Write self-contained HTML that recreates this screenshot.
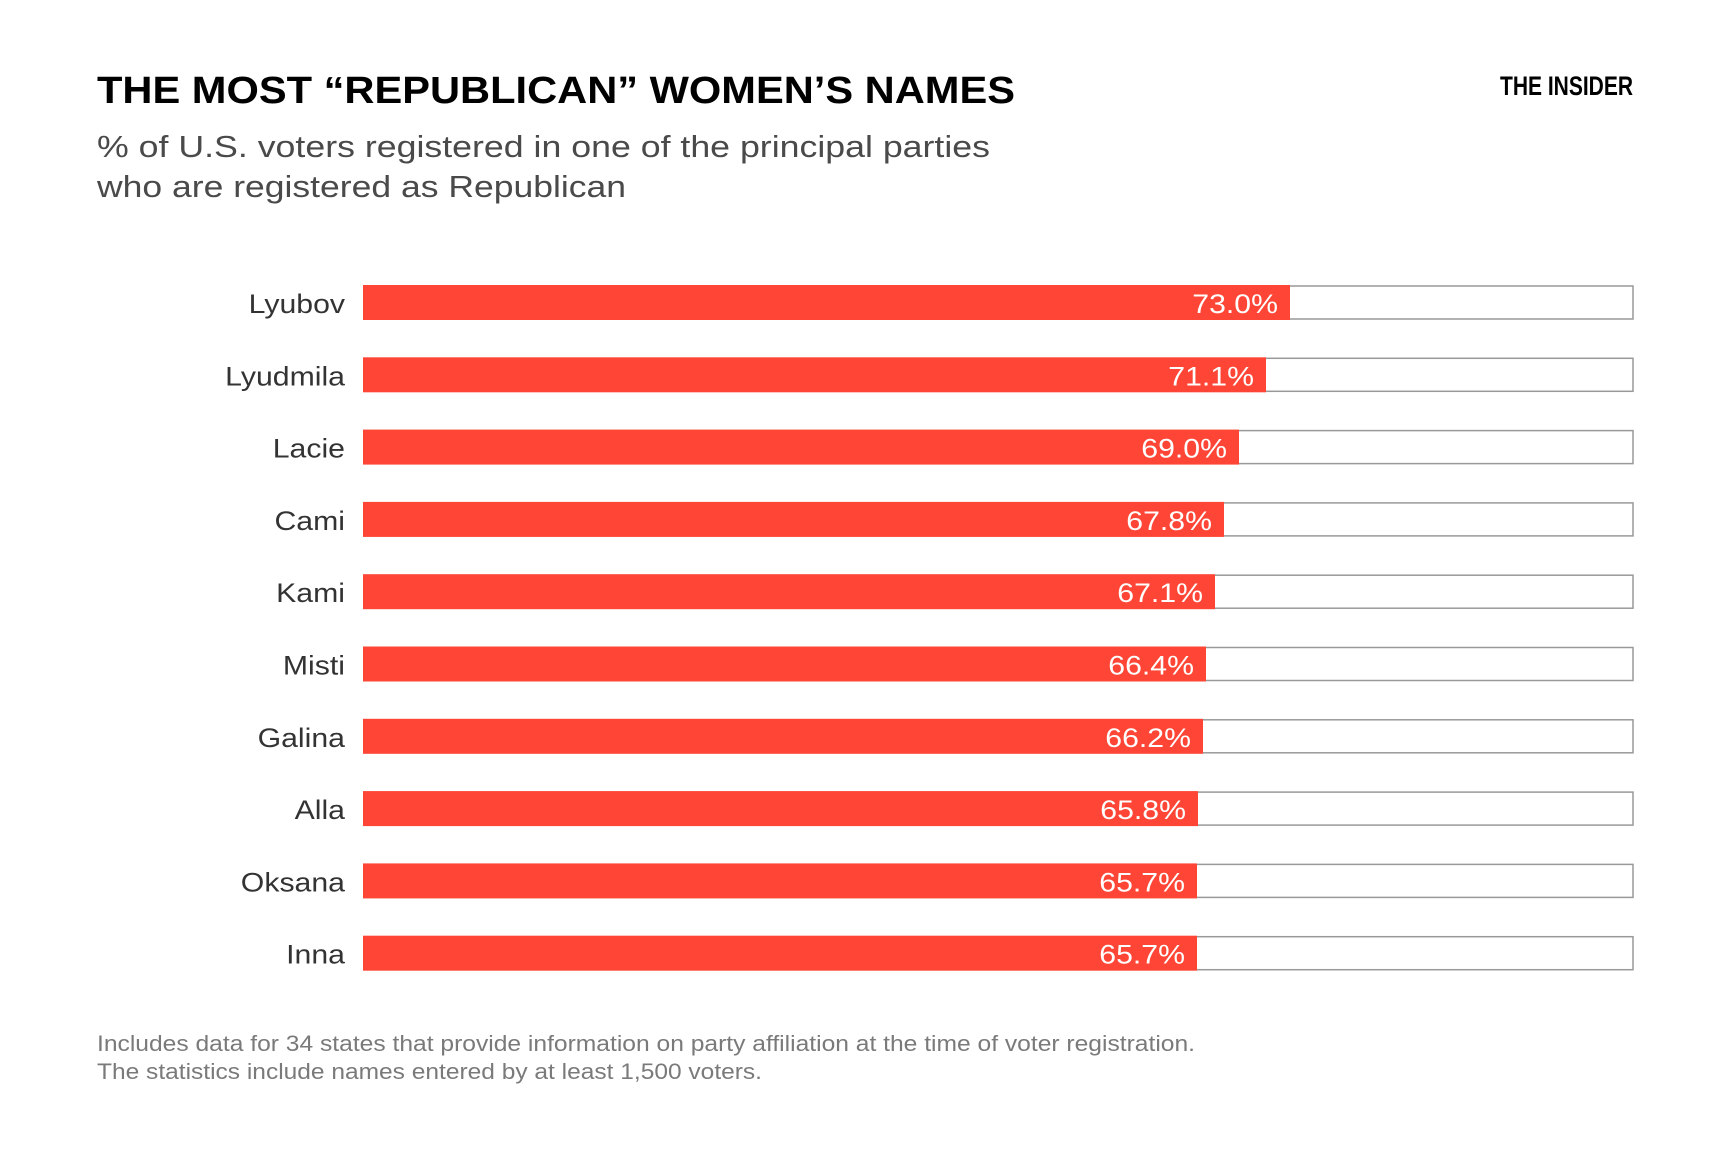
<!DOCTYPE html>
<html><head><meta charset="utf-8"><style>
html,body{margin:0;padding:0;background:#fff;}
svg{display:block;font-family:"Liberation Sans",sans-serif;}
</style></head><body>
<svg width="1732" height="1155" viewBox="0 0 1732 1155" xmlns="http://www.w3.org/2000/svg">
<rect width="1732" height="1155" fill="#fff"/>
<text x="97" y="103" font-size="38" font-weight="bold" fill="#000" textLength="918" lengthAdjust="spacingAndGlyphs">THE MOST “REPUBLICAN” WOMEN’S NAMES</text>
<text x="1500" y="95" font-size="27" font-weight="bold" fill="#000" textLength="133" lengthAdjust="spacingAndGlyphs">THE INSIDER</text>
<text x="97" y="157" font-size="31" fill="#4a4a4a" textLength="893" lengthAdjust="spacingAndGlyphs">% of U.S. voters registered in one of the principal parties</text>
<text x="97" y="197" font-size="31" fill="#4a4a4a" textLength="529" lengthAdjust="spacingAndGlyphs">who are registered as Republican</text>
<text x="97" y="1051" font-size="22" fill="#7a7a7a" textLength="1098" lengthAdjust="spacingAndGlyphs">Includes data for 34 states that provide information on party affiliation at the time of voter registration.</text>
<text x="97" y="1079" font-size="22" fill="#7a7a7a" textLength="665" lengthAdjust="spacingAndGlyphs">The statistics include names entered by at least 1,500 voters.</text>
<g font-size="27">
<rect x="364" y="286" width="1269" height="33" fill="#fff" stroke="#999" stroke-width="1.5"/><rect x="363" y="285" width="927" height="35" fill="#ff4636"/><text transform="translate(345,313) scale(1.12,1)" text-anchor="end" fill="#333">Lyubov</text><text transform="translate(1278,313) scale(1.12,1)" text-anchor="end" fill="#fff">73.0%</text>
<rect x="364" y="358.3" width="1269" height="33" fill="#fff" stroke="#999" stroke-width="1.5"/><rect x="363" y="357.3" width="903" height="35" fill="#ff4636"/><text transform="translate(345,385.3) scale(1.12,1)" text-anchor="end" fill="#333">Lyudmila</text><text transform="translate(1254,385.3) scale(1.12,1)" text-anchor="end" fill="#fff">71.1%</text>
<rect x="364" y="430.6" width="1269" height="33" fill="#fff" stroke="#999" stroke-width="1.5"/><rect x="363" y="429.6" width="876" height="35" fill="#ff4636"/><text transform="translate(345,457.6) scale(1.12,1)" text-anchor="end" fill="#333">Lacie</text><text transform="translate(1227,457.6) scale(1.12,1)" text-anchor="end" fill="#fff">69.0%</text>
<rect x="364" y="502.9" width="1269" height="33" fill="#fff" stroke="#999" stroke-width="1.5"/><rect x="363" y="501.9" width="861" height="35" fill="#ff4636"/><text transform="translate(345,529.9) scale(1.12,1)" text-anchor="end" fill="#333">Cami</text><text transform="translate(1212,529.9) scale(1.12,1)" text-anchor="end" fill="#fff">67.8%</text>
<rect x="364" y="575.2" width="1269" height="33" fill="#fff" stroke="#999" stroke-width="1.5"/><rect x="363" y="574.2" width="852" height="35" fill="#ff4636"/><text transform="translate(345,602.2) scale(1.12,1)" text-anchor="end" fill="#333">Kami</text><text transform="translate(1203,602.2) scale(1.12,1)" text-anchor="end" fill="#fff">67.1%</text>
<rect x="364" y="647.5" width="1269" height="33" fill="#fff" stroke="#999" stroke-width="1.5"/><rect x="363" y="646.5" width="843" height="35" fill="#ff4636"/><text transform="translate(345,674.5) scale(1.12,1)" text-anchor="end" fill="#333">Misti</text><text transform="translate(1194,674.5) scale(1.12,1)" text-anchor="end" fill="#fff">66.4%</text>
<rect x="364" y="719.8" width="1269" height="33" fill="#fff" stroke="#999" stroke-width="1.5"/><rect x="363" y="718.8" width="840" height="35" fill="#ff4636"/><text transform="translate(345,746.8) scale(1.12,1)" text-anchor="end" fill="#333">Galina</text><text transform="translate(1191,746.8) scale(1.12,1)" text-anchor="end" fill="#fff">66.2%</text>
<rect x="364" y="792.1" width="1269" height="33" fill="#fff" stroke="#999" stroke-width="1.5"/><rect x="363" y="791.1" width="835" height="35" fill="#ff4636"/><text transform="translate(345,819.1) scale(1.12,1)" text-anchor="end" fill="#333">Alla</text><text transform="translate(1186,819.1) scale(1.12,1)" text-anchor="end" fill="#fff">65.8%</text>
<rect x="364" y="864.4" width="1269" height="33" fill="#fff" stroke="#999" stroke-width="1.5"/><rect x="363" y="863.4" width="834" height="35" fill="#ff4636"/><text transform="translate(345,891.4) scale(1.12,1)" text-anchor="end" fill="#333">Oksana</text><text transform="translate(1185,891.4) scale(1.12,1)" text-anchor="end" fill="#fff">65.7%</text>
<rect x="364" y="936.7" width="1269" height="33" fill="#fff" stroke="#999" stroke-width="1.5"/><rect x="363" y="935.7" width="834" height="35" fill="#ff4636"/><text transform="translate(345,963.7) scale(1.12,1)" text-anchor="end" fill="#333">Inna</text><text transform="translate(1185,963.7) scale(1.12,1)" text-anchor="end" fill="#fff">65.7%</text>
</g>
</svg>
</body></html>
